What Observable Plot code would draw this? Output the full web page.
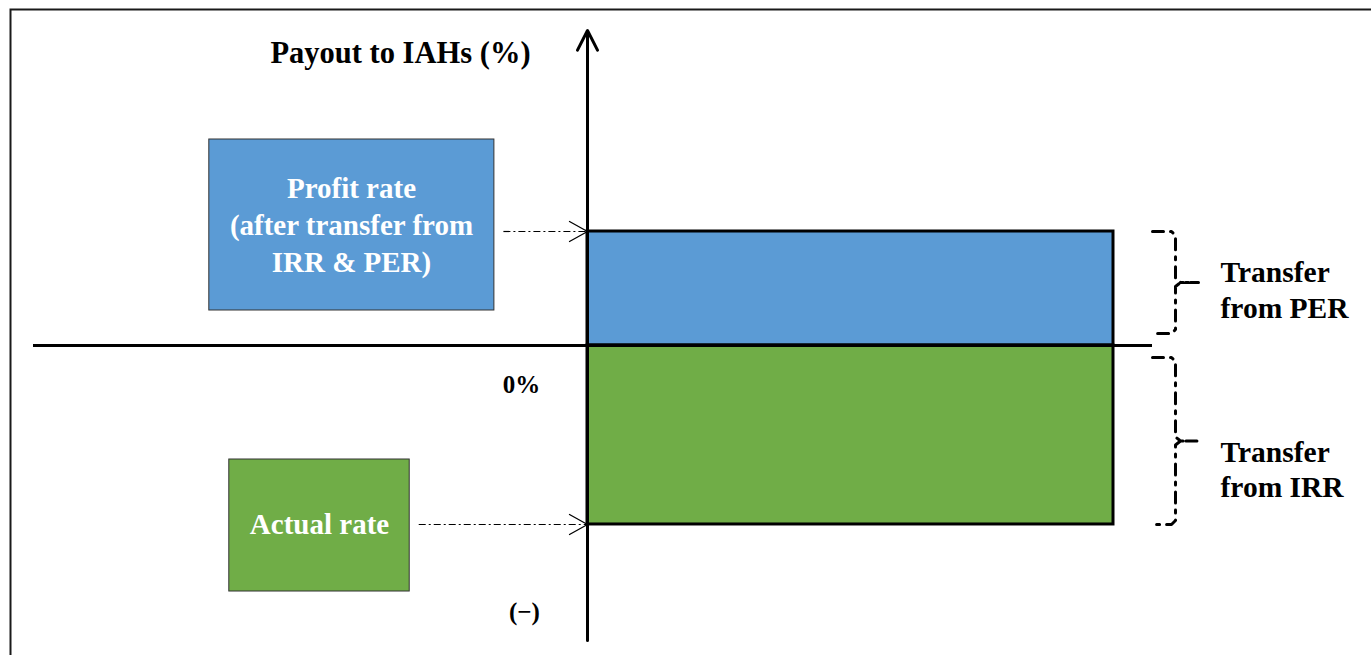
<!DOCTYPE html>
<html><head><meta charset="utf-8">
<script src="https://cdn.jsdelivr.net/npm/d3@7"></script>
<script src="https://cdn.jsdelivr.net/npm/@observablehq/plot@0.6"></script>
<style>body{margin:0;background:#fff} svg{display:block}</style>
</head><body><div id="chart"></div>
<script>
// ---- data ----
const rateNames = ["Profit rate\n(after transfer from\nIRR & PER)", "Actual rate"];
const rateValues = [2.0, -3.14];           // payout rate relative to 0%
const rateColors = ["#5b9bd5", "#70ad47"];
const transferLabels = ["Transfer\nfrom PER", "Transfer\nfrom IRR"];
const axisTitle = "Payout to IAHs (%)";
const zeroLabel = "0%";
const negLabel = "(\u2212)";

// ---- layout (scale set-up) ----
const W = 1371, H = 655;
const xDomain = [-1, 1], xRange = [61, 1113];
const yDomain = [-6, 6], yRange = [687, 3];
const pxX = p => p * (xDomain[1] - xDomain[0]) / (xRange[1] - xRange[0]);
const pxY = p => p * (yDomain[1] - yDomain[0]) / (yRange[0] - yRange[1]);

const rows = rateValues.map((v, i) => ({name: rateNames[i], value: v, color: rateColors[i]}));
const profit = rows[0], actual = rows[1];

// label boxes (in chart units)
const boxes = [
  {x1: -0.719, x2: -0.177, y1: 3.614, y2: 0.614, color: profit.color, text: profit.name, tx: -0.4487, ty: profit.value + pxY(8), tip: profit.value},
  {x1: -0.681, x2: -0.338, y1: -2.0, y2: -4.316, color: actual.color, text: actual.name, tx: -0.5095, ty: actual.value + pxY(2), tip: actual.value}
];

// pointer arrows from boxes to bar edges
const pointers = boxes.map(b => ({x1: b.x2 + pxX(9), x2: 0, y: b.tip}));
const heads = pointers.flatMap((p, i) => [
  {k: i, x: p.x2 - pxX(18), y: p.y + pxY(10)},
  {k: i, x: p.x2, y: p.y},
  {k: i, x: p.x2 - pxX(18), y: p.y - pxY(10)}
]);

// braces
const gap = pxY(12);
const braceRanges = [[profit.value, gap], [-gap, actual.value]];
const bx0 = 1 + pxX(39), bx1 = 1 + pxX(62), bx2 = 1 + pxX(85);
const braces = braceRanges.flatMap(([top, bot], k) => {
  const mid = (top + bot) / 2, r = pxY(4);
  return [
    {k, x: bx0, y: top}, {k, x: bx1 - pxX(4), y: top}, {k, x: bx1, y: top - r},
    {k, x: bx1, y: mid + r}, {k, x: bx1 + pxX(5), y: mid}, {k, x: bx2, y: mid},
    {k, x: bx1 + pxX(5), y: mid}, {k, x: bx1, y: mid - r},
    {k, x: bx1, y: bot + r}, {k, x: bx1 - pxX(4), y: bot}, {k, x: bx0, y: bot}
  ];
});
const braceLabelOffsets = [pxY(6), pxY(27)];
const braceLabels = braceRanges.map(([top, bot], k) => ({
  text: transferLabels[k], x: 1 + pxX(107), y: (top + bot) / 2 - braceLabelOffsets[k]
}));

const axisTop = pxY(315), axisBottom = -pxY(295);
const hLine = {x1: -1 - pxX(28), x2: 1 + pxX(39)};

const font = "Liberation Serif, Times New Roman, serif";
const fs = 29.5;

const chart = Plot.plot({
  width: W, height: H,
  margin: 0,
  x: {domain: xDomain, range: xRange, axis: null},
  y: {domain: yDomain, range: yRange, axis: null},
  color: {type: "identity"},
  style: {fontFamily: font, background: "#fff"},
  marks: [
    Plot.frame({insetLeft: 10, insetTop: 9, insetRight: -20, insetBottom: -20, stroke: "#1a1a1a", strokeWidth: 2}),
    // label boxes
    Plot.rect(boxes, {x1: "x1", x2: "x2", y1: "y1", y2: "y2", fill: "color", stroke: "#333", strokeWidth: 1}),
    Plot.text(boxes, {x: "tx", y: "ty", text: "text", fill: "#fff", fontSize: 29, fontWeight: "bold", lineHeight: 1.27, fontFamily: font}),
    // bars
    Plot.rect(rows, {x1: () => 0, x2: () => 1, y1: () => 0, y2: "value", fill: "color", stroke: "#000", strokeWidth: 3}),
    // horizontal zero line
    Plot.ruleY([0], {x1: () => hLine.x1, x2: () => hLine.x2, stroke: "#000", strokeWidth: 3}),
    // vertical axis with arrow head
    Plot.arrow([0], {x1: () => 0, x2: () => 0, y1: () => axisBottom, y2: () => axisTop, stroke: "#000", strokeWidth: 3, headLength: 11, headAngle: 54}),
    // pointer arrows
    Plot.link(pointers, {x1: "x1", x2: "x2", y1: "y", y2: "y", stroke: "#000", strokeWidth: 1.2, strokeDasharray: "7,3,2,3"}),
    Plot.line(heads, {x: "x", y: "y", z: "k", stroke: "#000", strokeWidth: 1.3}),
    // braces
    Plot.line(braces, {x: "x", y: "y", z: "k", stroke: "#000", strokeWidth: 3, strokeDasharray: "11,7,3,7"}),
    Plot.text(braceLabels, {x: "x", y: "y", text: "text", textAnchor: "start", fill: "#000", fontSize: fs, fontWeight: "bold", lineHeight: 1.22, fontFamily: font}),
    // axis texts
    Plot.text([axisTitle], {x: () => -0.3555, y: () => 5.123, text: d => d, fontSize: 30.5, fontWeight: "bold", fill: "#000", fontFamily: font}),
    Plot.text([zeroLabel], {x: () => -0.1255, y: () => -0.70, text: d => d, fontSize: 25, fontWeight: "bold", fill: "#000", fontFamily: font}),
    Plot.text([negLabel], {x: () => -0.12, y: () => -4.667, text: d => d, fontSize: 25, fontWeight: "bold", fill: "#000", fontFamily: font})
  ]
});
document.getElementById("chart").appendChild(chart);
</script>
</body></html>
